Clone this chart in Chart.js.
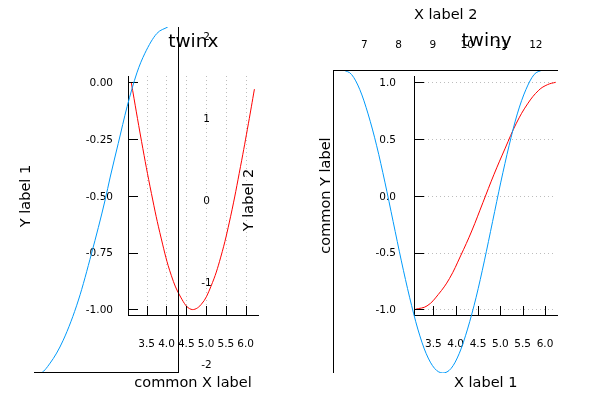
<!DOCTYPE html>
<html>
<head>
<meta charset="utf-8">
<script src="https://cdn.jsdelivr.net/npm/chart.js@4.4.1/dist/chart.umd.min.js"></script>
<style>
  body { margin: 0; background: #fff; }
  #wrap { position: relative; width: 600px; height: 400px; }
  #wrap canvas { position: absolute; left: 0; top: 0; }
</style>
</head>
<body>
<div id="wrap">
  <canvas id="twinxMain" width="600" height="400"></canvas>
  <canvas id="twinxTwin" width="600" height="400"></canvas>
  <canvas id="twinyMain" width="600" height="400"></canvas>
  <canvas id="twinyTwin" width="600" height="400"></canvas>
</div>
<script>
// ---- data ----
// twinx panel, primary axes (red)
const twinxRedX = [3.11, 3.37, 3.62, 3.87, 4.12, 4.37, 4.62, 4.87, 5.12, 5.37, 5.62, 5.87, 6.07, 6.22];
const twinxRedY = [0.00, -0.26, -0.49, -0.69, -0.85, -0.95, -1.00, -0.98, -0.90, -0.77, -0.59, -0.37, -0.18, -0.03];
// twinx panel, twin axes (blue)
const twinxBlueX = [0.02, 0.14, 0.38, 0.69, 1.05, 1.36, 1.68, 1.80, 1.99, 2.20, 2.43, 2.62, 2.90, 3.16];
const twinxBlueY = [-2.11, -2.11, -1.99, -1.71, -1.22, -0.65, 0.00, 0.28, 0.69, 1.14, 1.55, 1.79, 2.03, 2.11];
// twiny panel, primary axes (red)
const twinyRedX = [3.10, 3.36, 3.61, 3.86, 4.11, 4.36, 4.61, 4.86, 5.11, 5.36, 5.61, 5.86, 6.06, 6.24];
const twinyRedY = [-1.00, -0.97, -0.87, -0.73, -0.53, -0.31, -0.06, 0.19, 0.42, 0.64, 0.81, 0.93, 0.98, 1.00];
// twiny panel, twin axes (blue)
const twinyBlueX = [6.39, 6.63, 6.87, 7.11, 7.36, 7.60, 7.84, 8.08, 8.32, 8.56, 8.80, 9.05, 9.29,
                    9.53, 9.77, 10.01, 10.26, 10.50, 10.74, 10.98, 11.22, 11.46, 11.71, 11.95, 12.19];
const twinyBlueY = [1.00, 0.97, 0.87, 0.71, 0.50, 0.26, 0.00, -0.26, -0.50, -0.71, -0.87, -0.97, -1.00,
                    -0.97, -0.87, -0.71, -0.50, -0.26, 0.00, 0.26, 0.50, 0.71, 0.87, 0.97, 1.00];

// tick labels
const bottomXTicks = [3.5, 4.0, 4.5, 5.0, 5.5, 6.0];
const twinxYTicks = [0.00, -0.25, -0.50, -0.75, -1.00];
const twinxY2Ticks = [2, 1, 0, -1, -2];
const twinyYTicks = [1.0, 0.5, 0.0, -0.5, -1.0];
const twinyX2Ticks = [7, 8, 9, 10, 11, 12];

const BLUE = '#009afa';
const RED = '#ff0000';
const TICK_FONT = '10.5px "DejaVu Sans"';
const GUIDE_FONT = '14.5px "DejaVu Sans"';
const TITLE_FONT = '18.5px "DejaVu Sans"';

function seg(ctx, x1, y1, x2, y2) {
    ctx.beginPath();
    ctx.moveTo(x1, y1);
    ctx.lineTo(x2, y2);
    ctx.stroke();
}

function putText(ctx, t) {
    ctx.save();
    ctx.font = t.font;
    ctx.fillStyle = '#000';
    ctx.textAlign = t.align || 'center';
    ctx.textBaseline = 'alphabetic';
    ctx.translate(t.x, t.y);
    if (t.rot) ctx.rotate(-Math.PI / 2);
    ctx.fillText(t.text, 0, 0);
    ctx.restore();
}

// draws the Plots-style frame, inward ticks, dotted grid and labels
function axesPlugin(spec) {
    return {
        id: 'axes',
        beforeDatasetsDraw(chart) {
            const { ctx, chartArea: a, scales: { x, y } } = chart;
            ctx.save();
            ctx.strokeStyle = '#bdbdbd';
            ctx.lineWidth = 1;
            ctx.setLineDash([1, 3]);
            if (spec.xGrid) spec.xTicks.forEach(v => {
                const px = Math.round(x.getPixelForValue(v)) + 0.5;
                seg(ctx, px, a.top, px, a.bottom - 10);
            });
            if (spec.yGrid) spec.yTicks.forEach(v => {
                const py = Math.round(y.getPixelForValue(v)) + 0.5;
                seg(ctx, a.left + 10, py, a.right - 2, py);
            });
            ctx.restore();
        },
        afterDatasetsDraw(chart) {
            const { ctx, chartArea: a, scales: { x, y } } = chart;
            ctx.save();
            ctx.strokeStyle = '#000';
            ctx.lineWidth = 1;
            const L = a.left + 0.5, R = a.right - 0.5, T = a.top + 0.5, B = a.bottom - 0.5;
            (spec.sides || []).forEach(s => {
                if (s === 'left') seg(ctx, L, a.top, L, a.bottom);
                if (s === 'right') seg(ctx, R, a.top, R, a.bottom);
                if (s === 'top') seg(ctx, a.left, T, a.right, T);
                if (s === 'bottom') seg(ctx, a.left, B, a.right, B);
            });
            if (spec.marks) {
                spec.xTicks.forEach(v => {
                    const px = Math.round(x.getPixelForValue(v)) + 0.5;
                    seg(ctx, px, a.bottom, px, a.bottom - 10);
                });
                spec.yTicks.forEach(v => {
                    const py = Math.round(y.getPixelForValue(v)) + 0.5;
                    seg(ctx, a.left, py, a.left + 10, py);
                });
            }
            ctx.restore();
            if (spec.xTicks && spec.xLabelY) spec.xTicks.forEach(v => {
                putText(ctx, { text: spec.xFmt(v), x: x.getPixelForValue(v), y: spec.xLabelY, font: TICK_FONT });
            });
            if (spec.yTicks && spec.yLabelX) spec.yTicks.forEach(v => {
                putText(ctx, { text: spec.yFmt(v), x: spec.yLabelX, y: y.getPixelForValue(v) + 3.8,
                    font: TICK_FONT, align: spec.yAlign || 'right' });
            });
            (spec.texts || []).forEach(t => putText(ctx, t));
        }
    };
}

function pts(xs, ys) {
    return xs.map((v, i) => ({ x: v, y: ys[i] }));
}

function makePanel(id, xs, ys, color, xRange, yRange, padding, spec, smooth) {
    return new Chart(document.getElementById(id).getContext('2d'), {
        type: 'line',
        data: {
            datasets: [{
                data: pts(xs, ys),
                borderColor: color,
                borderWidth: 1,
                pointRadius: 0,
                fill: false,
                tension: 0.4,
                cubicInterpolationMode: smooth
            }]
        },
        options: {
            responsive: false,
            animation: false,
            devicePixelRatio: 1,
            layout: { padding: padding },
            plugins: {
                legend: { display: false },
                tooltip: { enabled: false },
                title: { display: false }
            },
            scales: {
                x: { type: 'linear', min: xRange[0], max: xRange[1], display: false },
                y: { type: 'linear', min: yRange[0], max: yRange[1], display: false }
            }
        },
        plugins: [axesPlugin(spec)]
    });
}

// left panel: twinx
makePanel('twinxMain', twinxRedX, twinxRedY, RED, [3.028, 6.336], [-1.0295, 0.028],
    { left: 128, top: 76, right: 341, bottom: 84 },
    {
        sides: ['left', 'bottom'], marks: true, xGrid: true,
        xTicks: bottomXTicks, xLabelY: 346.5, xFmt: v => v.toFixed(1),
        yTicks: twinxYTicks, yLabelX: 113, yFmt: v => v.toFixed(2),
        texts: [
            { text: 'Y label 1', x: 30, y: 196, font: GUIDE_FONT, rot: true },
            { text: 'common X label', x: 193, y: 387, font: GUIDE_FONT }
        ]
    }, 'default');

makePanel('twinxTwin', twinxBlueX, twinxBlueY, BLUE, [0, 3.425], [-2.11, 2.11],
    { left: 34, top: 27, right: 421, bottom: 27 },
    {
        sides: ['right', 'bottom'],
        yTicks: twinxY2Ticks, yLabelX: 206.5, yAlign: 'center', yFmt: v => String(v),
        texts: [
            { text: 'twinx', x: 193.3, y: 47, font: TITLE_FONT },
            { text: 'Y label 2', x: 253, y: 200, font: GUIDE_FONT, rot: true }
        ]
    }, 'monotone');

// right panel: twiny
makePanel('twinyMain', twinyRedX, twinyRedY, RED, [3.068, 6.291], [-1.059, 1.0555],
    { left: 414, top: 76, right: 42, bottom: 84 },
    {
        sides: ['left', 'bottom'], marks: true, yGrid: true,
        xTicks: bottomXTicks, xLabelY: 346.5, xFmt: v => v.toFixed(1),
        yTicks: twinyYTicks, yLabelX: 396, yFmt: v => v.toFixed(1),
        texts: [
            { text: 'common Y label', x: 330, y: 195.5, font: GUIDE_FONT, rot: true },
            { text: 'X label 1', x: 485.7, y: 387, font: GUIDE_FONT }
        ]
    }, 'default');

makePanel('twinyTwin', twinyBlueX, twinyBlueY, BLUE, [6.087, 12.647], [-1, 1],
    { left: 333, top: 70, right: 42, bottom: 27 },
    {
        sides: ['left', 'top'],
        xTicks: twinyX2Ticks, xLabelY: 48, xFmt: v => String(v),
        texts: [
            { text: 'X label 2', x: 445.7, y: 19, font: GUIDE_FONT },
            { text: 'twiny', x: 486.7, y: 46, font: TITLE_FONT }
        ]
    }, 'monotone');
</script>
</body>
</html>
